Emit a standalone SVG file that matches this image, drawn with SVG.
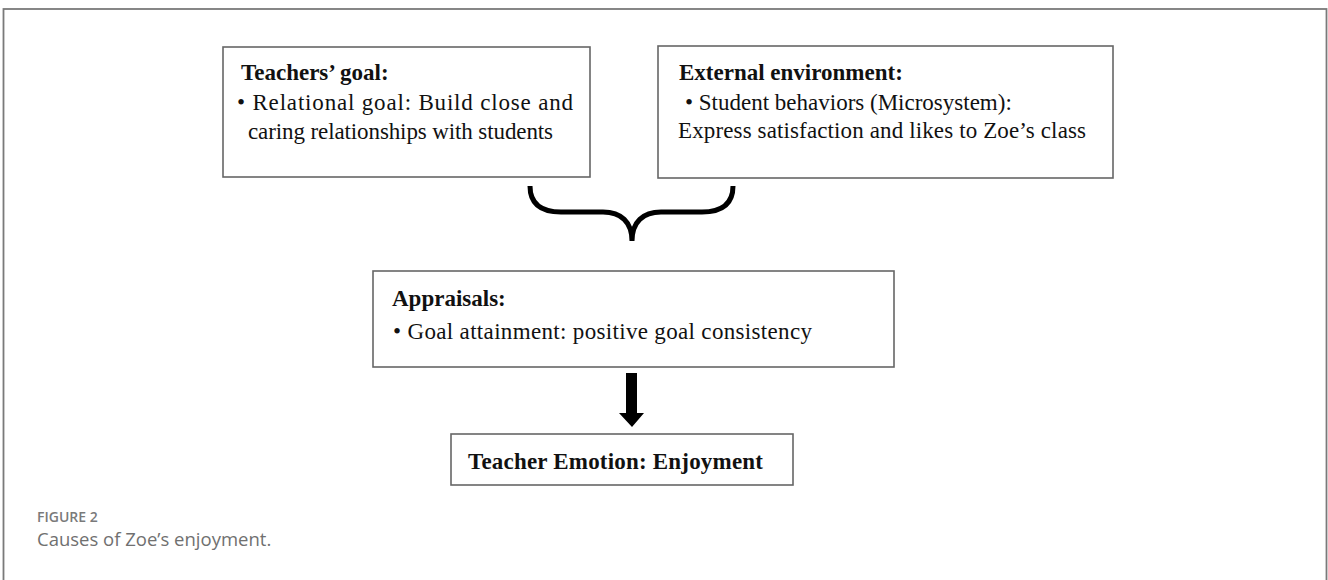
<svg xmlns="http://www.w3.org/2000/svg" width="1328" height="580" viewBox="0 0 1328 580">
<style>
.box{fill:#fff;stroke:#666;stroke-width:1.6}
.t{font-family:"Liberation Serif","Times New Roman",serif;font-size:23px;fill:#111}
.b{font-weight:bold}
.cap1{font-family:"Open Sans","Noto Sans","Liberation Sans",sans-serif;font-size:14px;font-weight:600;fill:#7a7a7a}
.cap2{font-family:"Open Sans","Noto Sans","Liberation Sans",sans-serif;font-size:18.5px;fill:#707070}
</style>
<rect width="1328" height="580" fill="#fff"/>
<rect x="3.5" y="9" width="1323" height="620" fill="none" stroke="#7a7a7a" stroke-width="1.8"/>
<g id="goal">
<rect class="box" x="223" y="47" width="367" height="130"/>
<text class="t b" x="241" y="80">Teachers’ goal:</text>
<text class="t" x="237" y="110" textLength="336" lengthAdjust="spacing">• Relational goal: Build close and</text>
<text class="t" x="248" y="139" textLength="305" lengthAdjust="spacing">caring relationships with students</text>
</g>
<g id="environment">
<rect class="box" x="658" y="46" width="455" height="132"/>
<text class="t b" x="679" y="80">External environment:</text>
<text class="t" x="685" y="110">• Student behaviors (Microsystem):</text>
<text class="t" x="678" y="138" textLength="408" lengthAdjust="spacing">Express satisfaction and likes to Zoe’s class</text>
</g>
<g id="connectors">
<path d="M530,186 C530,204 541,212 561,212 L603,212 C621,212 632,222 632,241 M733,186 C733,204 722,212 702,212 L661,212 C643,212 632,222 632,241" fill="none" stroke="#000" stroke-width="5"/>
<path d="M626,373 H637 V413 H644 L632,427 L619,413 H626 Z" fill="#000"/>
</g>
<g id="appraisals">
<rect class="box" x="373" y="271" width="521" height="96"/>
<text class="t b" x="392" y="306">Appraisals:</text>
<text class="t" x="393" y="339" textLength="419" lengthAdjust="spacing">• Goal attainment: positive goal consistency</text>
</g>
<g id="emotion">
<rect class="box" x="451" y="434" width="342" height="51"/>
<text class="t b" x="468" y="469" textLength="295" lengthAdjust="spacing">Teacher Emotion: Enjoyment</text>
</g>
<g id="caption">
<text class="cap1" x="37" y="522">FIGURE 2</text>
<text class="cap2" x="37" y="546">Causes of Zoe’s enjoyment.</text>
</g>
</svg>
